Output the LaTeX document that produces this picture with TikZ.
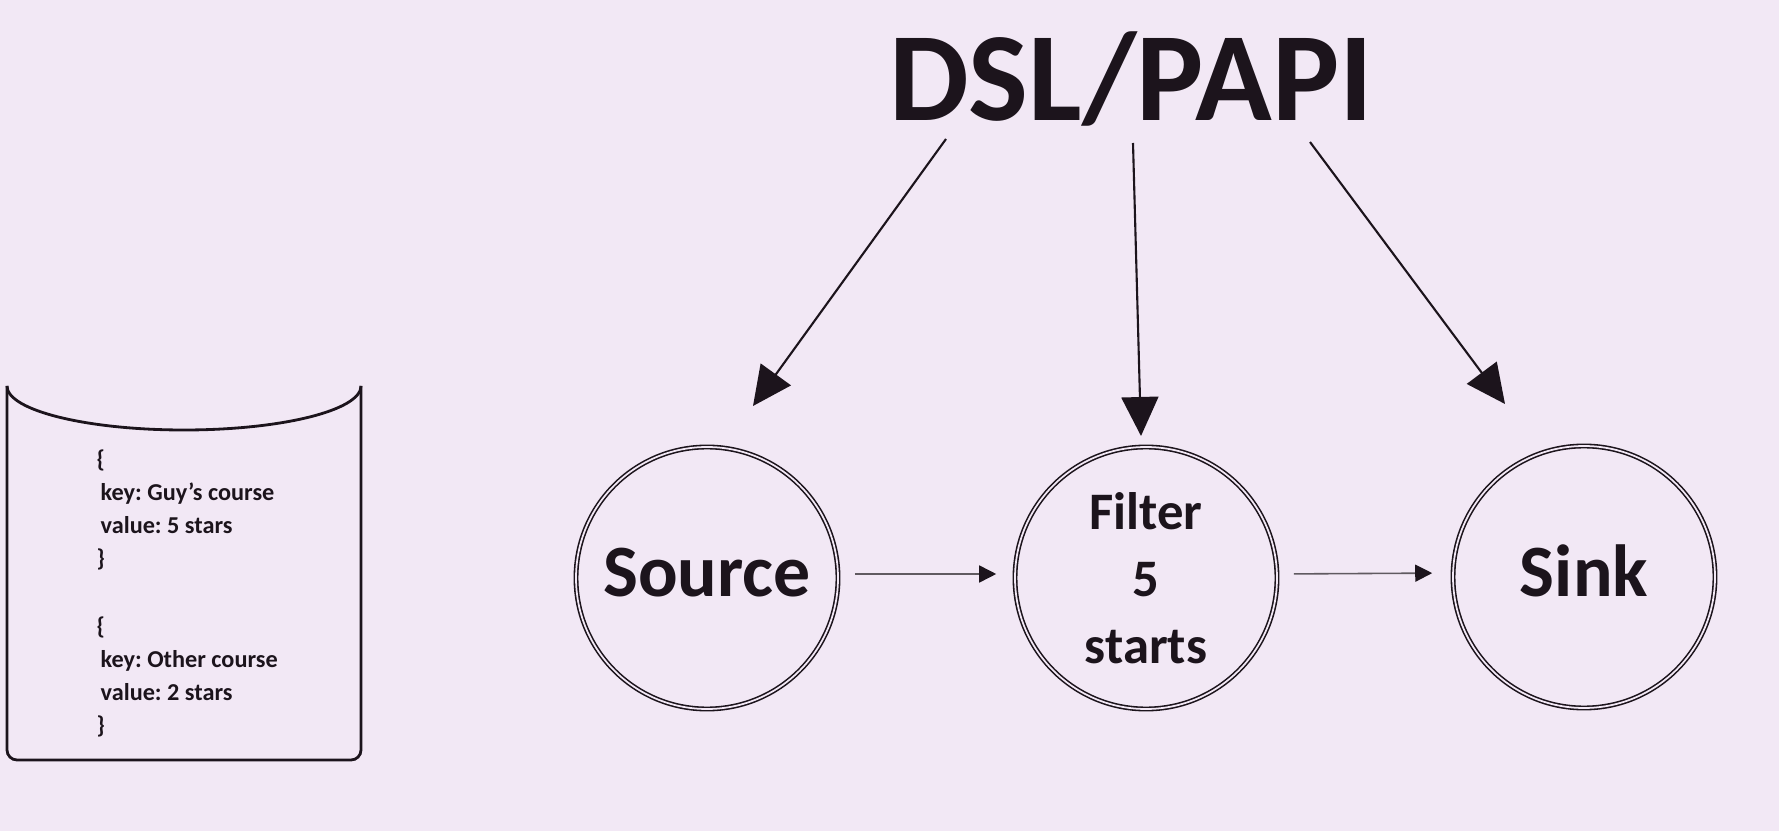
\documentclass[tikz,border=0pt]{standalone}
\usepackage{fontspec}
\setmainfont{Carlito}
\usetikzlibrary{arrows.meta, positioning}
\definecolor{bgpink}{RGB}{242,232,245}
\definecolor{ink}{RGB}{28,20,28}

\begin{document}
\frenchspacing
\begin{tikzpicture}[x=0.1mm, y=-0.1mm]
		\tikzstyle{Stage} = [circle, minimum size=26.2mm, inner sep=0pt, draw=ink, line width=0.45pt, double=bgpink, double distance=0.5pt, text=ink, align=center, font=\bfseries\fontsize{15}{19}\selectfont]
		\tikzstyle{WordStage} = [Stage, text depth=1.2mm, font=\bfseries\fontsize{21}{25}\selectfont]
		\tikzstyle{Record} = [anchor=west, inner sep=0pt, align=left, text=ink, font=\bfseries\fontsize{6.9}{9.4}\selectfont]
		\tikzstyle{apiarrow} = [draw=ink, line width=0.6pt, -{Triangle[length=3.9mm, width=3.7mm]}]
		\tikzstyle{flow} = [draw=ink!70, line width=0.45pt, -{Triangle[length=1.7mm, width=1.7mm, color=ink]}]
		
		%\draw[step=100,gray,very thin] (0,0) grid (1779,831);
		
		\fill[bgpink] (0,0) rectangle (1779,831);
		\useasboundingbox (0,0) rectangle (1779,831);
		
		% topic
		\draw [line width=0.8pt, ink, rounded corners=1mm] (7,386) -- (7,760) -- (361,760) -- (361,386);
		\draw [line width=0.8pt, ink] (7,386) arc[start angle=180, end angle=0, x radius=177, y radius=44];
		\node (rec1) [Record] at (96,510) {\{\\\hspace*{0.4mm}key: Guy's course\\\hspace*{0.4mm}value: 5 stars\\\}};
		\node (rec2) [Record] at (96,677) {\{\\\hspace*{0.4mm}key: Other course\\\hspace*{0.4mm}value: 2 stars\\\}};
		
		\node (dsl) [anchor=base, inner sep=0pt, text=ink, font=\bfseries\fontsize{36}{40}\selectfont] at (1131,121) {DSL/PAPI};
		\node (source) [WordStage] at (707,578) {Source};
		\node (filter) [Stage] at (1146,578) {Filter\\5\\starts};
		\node (sink) [WordStage] at (1584,577) {Sink};
		
		\coordinate (sourceIn) at (753,406);
		\coordinate (filterIn) at (1141,436);
		\coordinate (sinkIn) at (1505,404);
		\draw [apiarrow] ([xshift=-18.5mm, yshift=-1.8mm]dsl.base) -- (sourceIn);
		\draw [apiarrow] ([xshift=0.2mm, yshift=-2.2mm]dsl.base) -- (filterIn);
		\draw [apiarrow] ([xshift=17.9mm, yshift=-2.1mm]dsl.base) -- (sinkIn);
		\draw [flow, shorten <=1.6mm, shorten >=1.8mm] ([yshift=0.4mm]source.east) -- ([yshift=0.4mm]filter.west);
		\draw [flow, shorten <=1.6mm, shorten >=2mm] ([yshift=0.4mm]filter.east) -- ([yshift=0.4mm]sink.west);
\end{tikzpicture}
\end{document}
